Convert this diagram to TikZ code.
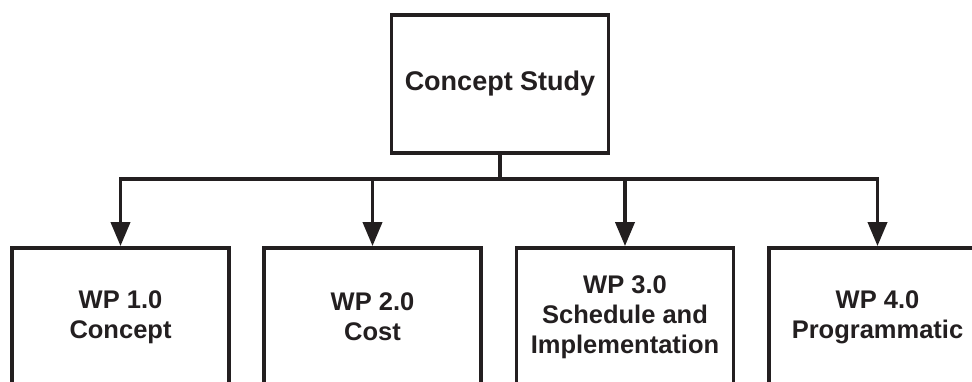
\documentclass[tikz,border=0pt]{standalone}
\usepackage{fontspec}
\setmainfont{Liberation Sans}
\usetikzlibrary{arrows.meta}
\definecolor{ink}{HTML}{231F20}
\tikzset{
  wpbox/.style={draw=ink, line width=3.8pt, minimum width=217pt, minimum height=138pt,
    inner sep=0pt, align=center, text=ink, font=\fontsize{25.5}{30}\selectfont\bfseries},
  conn/.style={draw=ink, line width=3.8pt, line join=miter},
  arr/.style={conn, -{Triangle[length=24pt,width=19pt]}}
}
\begin{document}
\begin{tikzpicture}[x=1pt,y=-1pt]
\useasboundingbox (0,0) rectangle (972,382);
\clip (0,0) rectangle (972,382);
\fill[white] (0,0) rectangle (972,382);
\node[wpbox, font=\fontsize{27}{32}\selectfont\bfseries] (top) at (500,84) {Concept Study};
\node[wpbox] (wp1) at (120.5,317) {WP 1.0\\Concept};
\node[wpbox] (wp2) at (372.5,317) {WP 2.0\\Cost};
\node[wpbox] (wp3) at (625,317) {WP 3.0\\Schedule and\\Implementation};
\node[wpbox] (wp4) at (877.5,317) {WP 4.0\\Programmatic};
\coordinate (hub) at (500,179);
\draw[conn] (top.south) -- (hub);
\draw[arr] (hub) -| (wp1.north);
\draw[arr] (hub) -| (wp2.north);
\draw[arr] (hub) -| (wp3.north);
\draw[arr] (hub) -| (wp4.north);
\end{tikzpicture}
\end{document}
